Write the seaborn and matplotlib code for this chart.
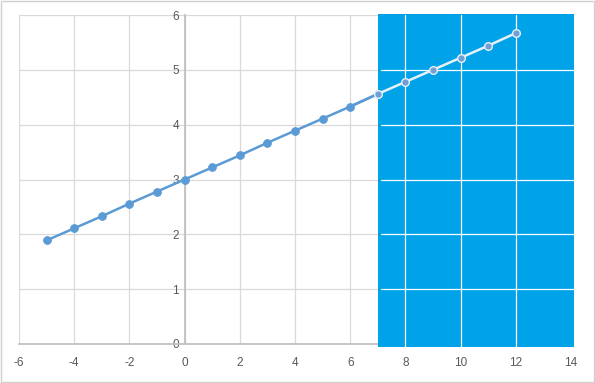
import matplotlib
matplotlib.use("Agg")
import matplotlib.pyplot as plt
import seaborn as sns
import pandas as pd
from matplotlib.patches import Rectangle

x_vals = [-5, -4, -3, -2, -1, 0, 1, 2, 3, 4, 5, 6, 7, 8, 9, 10, 11, 12]
y_vals = [1.89, 2.11, 2.33, 2.56, 2.78, 3.00, 3.22, 3.44, 3.67, 3.89,
          4.11, 4.33, 4.56, 4.78, 5.00, 5.22, 5.44, 5.67]
x_ticks = [-6, -4, -2, 0, 2, 4, 6, 8, 10, 12, 14]
y_ticks = [0, 1, 2, 3, 4, 5, 6]
shade_start = 7

df = pd.DataFrame({"x": x_vals, "y": y_vals})

sns.set_theme(style="white")
plt.rcParams['font.family'] = ['Liberation Sans', 'DejaVu Sans']
plt.rcParams['axes.unicode_minus'] = False

fig = plt.figure(figsize=(5.95, 3.83), dpi=100)
ax = fig.add_axes([19/595, 1 - 344/383, (571-19)/595, (344-15)/383])

ax.set_xlim(-6, 14)
ax.set_ylim(0, 6)
ax.set_xticks(x_ticks)
ax.set_yticks(y_ticks)
ax.grid(True, color="#D9D9D9", linewidth=0.9)
ax.set_axisbelow(True)

for s in ["top", "right"]:
    ax.spines[s].set_visible(False)
ax.spines["left"].set_position(("data", 0))
ax.spines["left"].set_color("#BFBFBF")
ax.spines["bottom"].set_color("#BFBFBF")
ax.tick_params(axis="both", length=0, labelsize=8.5, labelcolor="#595959")
ax.tick_params(axis="x", pad=9)
ax.tick_params(axis="y", pad=4)

sns.lineplot(data=df, x="x", y="y", ax=ax, color="#5B9BD5", linewidth=1.8,
             marker="o", markersize=5.5, markeredgecolor="#5B9BD5", zorder=3)
ax.set_xlabel("")
ax.set_ylabel("")

# blue overlay region
ax.add_patch(Rectangle((shade_start, -0.06), 14.1 - shade_start, 6.08,
                       facecolor="#00A2E8", edgecolor="none", zorder=4,
                       clip_on=False))
for xv in [8, 10, 12]:
    ax.plot([xv, xv], [-0.06, 6.0], color="white", linewidth=0.9, zorder=5, clip_on=False)
for yv in [1, 2, 3, 4, 5]:
    ax.plot([shade_start + 0.1, 14.1], [yv, yv], color="white", linewidth=0.9, zorder=5, clip_on=False)

sub = df[df["x"] >= shade_start]
ax.plot(sub["x"], sub["y"], color="#E8F0F8", linewidth=1.8, zorder=6)
ax.plot(sub["x"], sub["y"], linestyle="none", marker="o", markersize=5.5,
        markerfacecolor="#6F9FD6", markeredgecolor="#E8F0F8", markeredgewidth=1, zorder=7)
ax.plot([6, shade_start], [4.33, 4.56], color="#5B9BD5", linewidth=1.8, zorder=3)

fig.patches.append(Rectangle((1/595, 1/383), 593/595, 381/383, transform=fig.transFigure,
                             facecolor="none", edgecolor="#D0D0D0", linewidth=1))

fig.savefig("out.png", dpi=100)
